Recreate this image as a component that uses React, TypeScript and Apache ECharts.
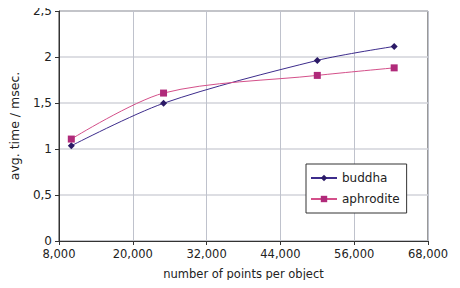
import React, { useEffect, useRef } from "react";
import * as echarts from "echarts";

const X_MIN = 8000;
const X_MAX = 68000;
const X_STEP = 12000;
const buddhaX = [10000, 25000, 50000, 62500];
const buddhaY = [1.035, 1.497, 1.963, 2.115];
const aphroditeX = [10000, 25000, 50000, 62500];
const aphroditeY = [1.108, 1.608, 1.8, 1.882];

const fmtX = (v: number) => (v + X_MIN).toLocaleString("en-US");
const fmtY = (v: number) => String(v).replace(".", ",");

export default function App() {
  const ref = useRef<HTMLDivElement>(null);
  useEffect(() => {
    const chart = echarts.init(ref.current!, undefined, { renderer: "svg" });
    const font = "DejaVu Sans";
    chart.setOption({
      animation: false,
      backgroundColor: "#ffffff",
      textStyle: { fontFamily: font },
      grid: {
        left: 57,
        right: 32,
        top: 11,
        bottom: 47,
        show: true,
        borderColor: "#333",
        borderWidth: 1,
      },
      legend: {
        orient: "vertical",
        left: 306,
        top: 164,
        backgroundColor: "#fff",
        borderColor: "#333",
        borderWidth: 1,
        borderRadius: 0,
        padding: [8, 7, 8, 4],
        itemGap: 9,
        itemWidth: 26,
        itemHeight: 8,
        textStyle: { fontFamily: font, fontSize: 12, color: "#222" },
        data: ["buddha", "aphrodite"],
      },
      xAxis: {
        type: "value",
        min: 0,
        max: X_MAX - X_MIN,
        interval: X_STEP,
        name: "number of points per object",
        nameLocation: "middle",
        nameGap: 27,
        nameTextStyle: { fontFamily: font, fontSize: 11.5, color: "#222" },
        axisLine: { lineStyle: { color: "#333" } },
        axisTick: { show: true, inside: false, length: 4, lineStyle: { color: "#333" } },
        axisLabel: { formatter: fmtX, fontSize: 11.5, color: "#222", margin: 7 },
        splitLine: { show: true, lineStyle: { color: "#bfc2cc", width: 1 } },
      },
      yAxis: {
        type: "value",
        min: 0,
        max: 2.5,
        interval: 0.5,
        name: "avg. time / msec.",
        nameLocation: "middle",
        nameGap: 38,
        nameTextStyle: { fontFamily: font, fontSize: 12.5, color: "#222" },
        axisLine: { show: true, lineStyle: { color: "#333" } },
        axisTick: { show: true, inside: false, length: 4, lineStyle: { color: "#333" } },
        axisLabel: { formatter: fmtY, fontSize: 12, color: "#222", margin: 7 },
        splitLine: { show: true, lineStyle: { color: "#d2d3da", width: 1.5 } },
      },
      series: [
        {
          name: "buddha",
          type: "line",
          smooth: 0.3,
          data: buddhaX.map((x, i) => [x - X_MIN, buddhaY[i]]),
          symbol: "diamond",
          symbolSize: 7,
          lineStyle: { color: "#3d2c8c", width: 1 },
          itemStyle: { color: "#2b1a66" },
        },
        {
          name: "aphrodite",
          type: "line",
          smooth: 0.3,
          data: aphroditeX.map((x, i) => [x - X_MIN, aphroditeY[i]]),
          symbol: "rect",
          symbolSize: 7,
          lineStyle: { color: "#d4508a", width: 1 },
          itemStyle: { color: "#b02a7a" },
        },
      ],
    });
    return () => chart.dispose();
  }, []);
  return <div ref={ref} style={{ width: 460, height: 288, margin: -8 }} />;
}
